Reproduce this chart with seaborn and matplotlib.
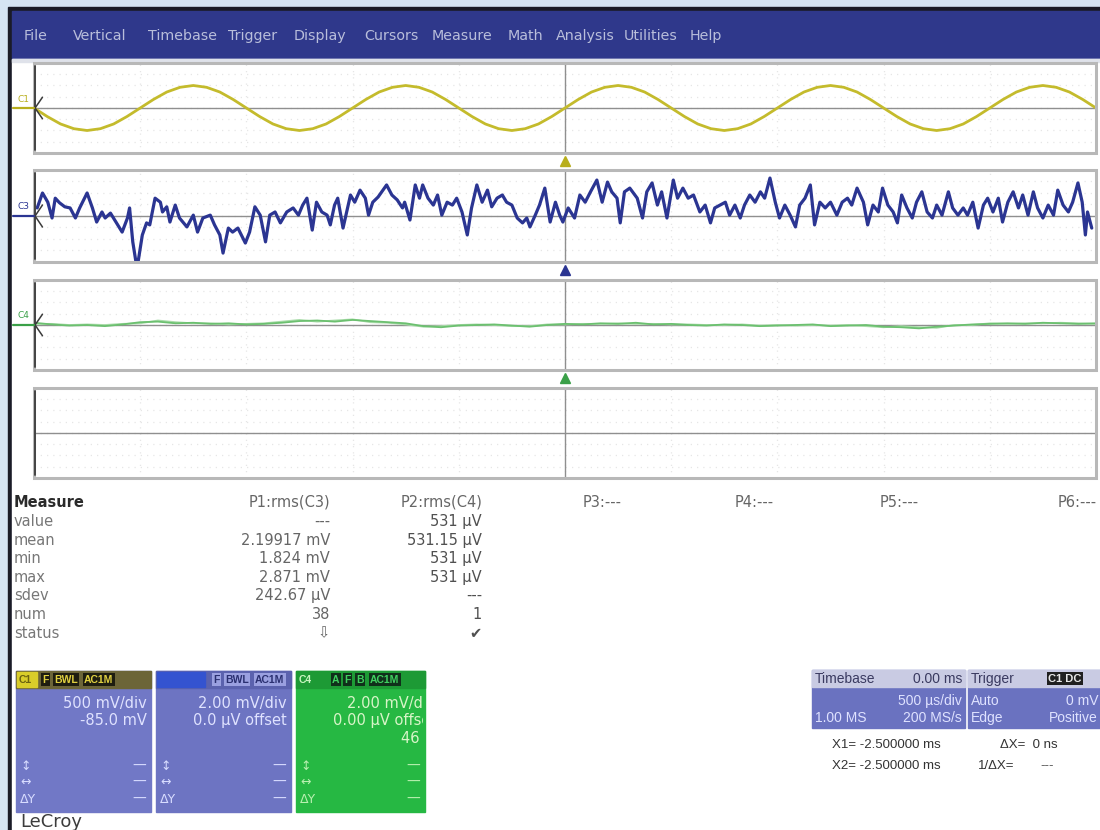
import numpy as np
import pandas as pd
import matplotlib
matplotlib.use("Agg")
import matplotlib.pyplot as plt
from matplotlib.patches import Rectangle
from matplotlib.lines import Line2D
from matplotlib.ticker import MultipleLocator
from matplotlib.transforms import blended_transform_factory
import seaborn as sns

# ---------------------------------------------------------------------------
# Acquisition settings
# ---------------------------------------------------------------------------
TIME_PER_DIV_MS = 0.5          # 500 us/div, 10 divisions
trigger_time_ms = 0.0
c1_volts_per_div = 0.5         # 500 mV/div
c3_mv_per_div = 2.0            # 2.00 mV/div
c4_mv_per_div = 2.0            # 2.00 mV/div

# C1: 1 kHz reference sine (V), sampled every 62.5 us
c1_t_ms = np.linspace(-2.5, 2.5, 81)
c1_v = [
    0.0, -0.38, -0.71, -0.92, -1.0, -0.92, -0.71, -0.38,
    0.0, 0.38, 0.71, 0.92, 1.0, 0.92, 0.71, 0.38,
    0.0, -0.38, -0.71, -0.92, -1.0, -0.92, -0.71, -0.38,
    0.0, 0.38, 0.71, 0.92, 1.0, 0.92, 0.71, 0.38,
    0.0, -0.38, -0.71, -0.92, -1.0, -0.92, -0.71, -0.38,
    0.0, 0.38, 0.71, 0.92, 1.0, 0.92, 0.71, 0.38,
    0.0, -0.38, -0.71, -0.92, -1.0, -0.92, -0.71, -0.38,
    0.0, 0.38, 0.71, 0.92, 1.0, 0.92, 0.71, 0.38,
    0.0, -0.38, -0.71, -0.92, -1.0, -0.92, -0.71, -0.38,
    0.0, 0.38, 0.71, 0.92, 1.0, 0.92, 0.71, 0.38,
    0.0,
]

# C3: noisy channel (time in us, amplitude in mV)
c3_t_us = [
    -2485, -2460, -2435, -2415, -2400, -2380, -2355, -2330, -2305, -2285,
    -2250, -2225, -2205, -2180, -2165, -2140, -2120, -2085, -2060, -2050,
    -2035, -2020, -2010, -1990, -1970, -1955, -1930, -1905, -1895, -1875,
    -1860, -1835, -1815, -1780, -1750, -1730, -1705, -1670, -1650, -1625,
    -1610, -1585, -1565, -1540, -1505, -1485, -1460, -1435, -1410, -1390,
    -1365, -1340, -1310, -1280, -1255,
    -1235, -1215, -1190, -1170, -1145, -1120, -1105, -1085, -1070, -1045,
    -1010, -990, -965, -940, -925, -905, -880, -840, -815, -790,
    -765, -755, -730, -705, -685, -670, -645, -620, -600, -580,
    -555, -530, -510, -485, -460, -440, -415, -390, -365, -345,
    -320, -295, -275, -250, -225, -200, -180, -165, -140, -120,
    -95, -70, -45,
    -25, -10, 15, 45, 70, 95, 120, 150, 175, 200,
    220, 245, 260, 280, 305, 340, 365, 385, 410, 435,
    455, 480, 510, 530, 555, 580, 605, 635, 660, 685,
    705, 730, 755, 775, 800, 825, 845, 870, 895, 920,
    940, 965, 990, 1010, 1035, 1060, 1085, 1105, 1130, 1155,
    1175, 1200, 1225, 1250, 1280, 1305, 1330, 1350, 1375, 1405,
    1425, 1450, 1475, 1495, 1520, 1545, 1565, 1585, 1610, 1635,
    1655, 1680, 1705, 1730, 1750, 1775, 1805, 1825, 1850, 1875,
    1895, 1920, 1945, 1970, 1990, 2015, 2040, 2060, 2085, 2110,
    2135, 2155, 2180, 2205, 2225, 2250, 2275, 2300, 2320, 2345,
    2370, 2390, 2415, 2435, 2450, 2460, 2480,
]
c3_mv = [
    1.4, 4.0, 2.4, -0.35, 3.1, 2.3, 1.6, 1.4, -0.35, 1.4,
    4.0, 1.4, -1.05, 0.7, -0.35, 0.5, -0.7, -2.8, -0.35, 1.4,
    -4.5, -8.0, -8.0, -3.3, -1.2, -1.55, 3.1, 2.4, 0.7, 1.6,
    -1.05, 1.9, -0.35, -1.9, 0.15, -2.8, -0.35, 0.15, -1.55, -3.3,
    -6.45, -2.1, -2.8, -2.1, -4.7, -2.8, 1.6, 0.15, -4.5, 0.15,
    0.7, -1.2, 0.7, 1.4, 0.15,
    1.9, 3.1, -2.45, 2.4, 0.7, 0.15, -1.55, 1.9, 3.1, -2.1,
    3.65, 2.4, 4.5, 3.1, 0.15, 2.4, 3.3, 5.4, 3.65, 2.8,
    1.4, 2.4, -0.7, 5.4, 3.1, 5.4, 3.1, 1.9, 3.65, 0.15,
    2.4, 1.9, 3.1, 0.7, -3.3, 1.4, 5.4, 2.4, 4.5, 1.6,
    3.1, 3.65, 2.4, 1.9, -0.35, -1.2, -0.35, -1.9, 0.15, 1.9,
    4.85, -1.05, 2.4,
    0.15, -1.05, 1.4, -0.35, 3.65, 2.4, 4.2, 6.25, 2.4, 5.9,
    4.2, 3.1, -1.2, 4.2, 4.85, 3.1, -0.35, 4.2, 5.75, 1.9,
    4.2, -0.35, 6.25, 3.1, 4.85, 3.1, 3.65, 0.7, 1.9, -1.2,
    1.4, 1.9, 2.4, 0.15, 1.9, -0.35, 1.9, 3.65, 2.4, 4.2,
    3.1, 6.6, 2.4, -0.35, 1.9, 0.15, -1.9, 1.9, 3.1, 5.4,
    -1.55, 2.4, 1.4, 2.4, 0.15, 2.4, 3.1, 1.9, 4.85, 2.4,
    -1.55, 1.9, 0.7, 4.85, 1.9, 0.7, -1.2, 3.65, 1.4, -0.35,
    2.4, 4.2, 0.7, -0.35, 1.9, 0.15, 4.2, 1.4, 0.15, 1.4,
    0.15, 2.4, -2.1, 1.9, 3.1, 0.7, 3.1, -1.05, 2.4, 4.2,
    1.4, 3.65, 0.15, 4.2, 1.4, -0.35, 1.9, 0.15, 4.5, 1.9,
    0.7, 2.4, 5.75, 2.4, -3.3, 0.7, -2.1,
]

# C4: quiet channel (mV), current sweep and the persisted previous sweep
c4_t_ms = np.linspace(-2.5, 2.5, 61)
c4_mv = [
    0.4, 0.1, -0.1, 0.0, -0.2, 0.1, 0.5, 0.6, 0.3, 0.4,
    0.2, 0.3, 0.1, 0.2, 0.4, 0.7, 0.8, 0.6, 0.9, 0.7,
    0.5, 0.3, -0.2, -0.4, -0.1, 0.0, 0.1, -0.1, -0.3, 0.0,
    0.2, 0.1, 0.3, 0.2, 0.4, 0.1, 0.2, 0.0, -0.1, 0.1,
    0.0, -0.2, -0.1, 0.0, 0.1, -0.2, -0.1, 0.0, -0.3, -0.4,
    -0.6, -0.3, -0.1, 0.1, 0.2, 0.3, 0.2, 0.4, 0.3, 0.2,
    0.3,
]
c4_prev_mv = [
    0.2, 0.2, 0.0, 0.1, 0.0, 0.2, 0.3, 0.8, 0.5, 0.3,
    0.3, 0.1, 0.2, 0.3, 0.6, 0.9, 0.6, 0.8, 1.0, 0.5,
    0.4, 0.1, -0.3, -0.2, 0.0, 0.1, 0.0, -0.2, -0.2, 0.1,
    0.1, 0.2, 0.2, 0.3, 0.2, 0.2, 0.1, 0.1, 0.0, 0.0,
    0.1, -0.1, 0.0, -0.1, 0.0, -0.1, 0.0, -0.2, -0.4, -0.2,
    -0.4, -0.5, 0.0, 0.0, 0.3, 0.2, 0.3, 0.3, 0.4, 0.3,
    0.2,
]

# Menu and readout texts
menu_items = ["File", "Vertical", "Timebase", "Trigger", "Display", "Cursors",
              "Measure", "Math", "Analysis", "Utilities", "Help"]
measure_rows = ["value", "mean", "min", "max", "sdev", "num", "status"]
p1_header = "P1:rms(C3)"
p1_values = ["---", "2.19917 mV", "1.824 mV", "2.871 mV", "242.67 µV", "38", "⇩"]
p2_header = "P2:rms(C4)"
p2_values = ["531 µV", "531.15 µV", "531 µV", "531 µV", "---", "1", "✔"]
unused_params = ["P3:---", "P4:---", "P5:---", "P6:---"]

# ---------------------------------------------------------------------------
sns.set_style("white")
plt.rcParams["font.family"] = ["DejaVu Sans"]
NARROW = ["Liberation Sans", "DejaVu Sans"]

W, H = 1100, 830
YELLOW = "#c4bb2c"
BLUE = "#2b3592"
GREEN = "#6cc070"
TEXT = "#666666"

fig = plt.figure(figsize=(W / 100, H / 100), dpi=100)

# full-figure layer in pixel units for the instrument chrome
ui = fig.add_axes([0, 0, 1, 1], zorder=0)
ui.set_xlim(0, W)
ui.set_ylim(H, 0)
ui.axis("off")

ui.add_patch(Rectangle((0, 0), W, H, color="#d5e4f3", zorder=0))
ui.add_patch(Rectangle((8, 7), W, H, color="#1a1b27", zorder=0))
ui.add_patch(Rectangle((12, 11), W, 48, color="#2f388b", zorder=1))
ui.add_patch(Rectangle((12, 59), W, H, color="white", zorder=1))
ui.add_patch(Rectangle((12, 59), W, 3, color="#dfe2ea", zorder=1))

menu_x = [24, 73, 148, 228, 294, 364, 432, 508, 556, 624, 690]
for label, mx in zip(menu_items, menu_x):
    ui.text(mx, 36, label, fontsize=10.3, color="#b9bedb", va="center",
            ha="left", zorder=3)


def px_axes(x0, y0, x1, y1, z=2):
    return fig.add_axes([x0 / W, 1 - y1 / H, (x1 - x0) / W, (y1 - y0) / H],
                        zorder=z)


def scope_panel(y0, y1, per_div, name, color, trig=True):
    ax = px_axes(34, y0, 1096, y1)
    ax.set_xlim(-5 * TIME_PER_DIV_MS, 5 * TIME_PER_DIV_MS)
    ax.set_ylim(-4 * per_div, 4 * per_div)
    ax.set_facecolor("white")
    ax.spines["top"].set_visible(False)
    ax.spines["right"].set_visible(False)
    ax.spines["left"].set_position(("data", 0))
    ax.spines["bottom"].set_position(("data", 0))
    for s in ("left", "bottom"):
        ax.spines[s].set_color("#8f8f8f")
        ax.spines[s].set_linewidth(1.0)
    ax.xaxis.set_major_locator(MultipleLocator(TIME_PER_DIV_MS))
    ax.xaxis.set_minor_locator(MultipleLocator(TIME_PER_DIV_MS / 5))
    ax.yaxis.set_major_locator(MultipleLocator(per_div))
    ax.tick_params(which="both", direction="inout", labelbottom=False,
                   labelleft=False, color="#8a8a8a")
    ax.tick_params(which="major", length=7, width=1.0)
    ax.tick_params(which="minor", length=4, width=0.8)
    ax.grid(True, which="major", color="#e6e6e6", ls=(0, (1, 4)), lw=0.9)
    # panel frame
    ax.add_patch(Rectangle((0, 0), 1, 1, transform=ax.transAxes, fill=False,
                           ec="#b8b8b8", lw=2.2, clip_on=False, zorder=6))
    # ground bracket on the left edge
    ax.add_line(Line2D([0.001, 0.001], [0.03, 0.97], transform=ax.transAxes,
                       color="#3a3a3a", lw=1.3, clip_on=False, zorder=7))
    if name:
        ax.add_line(Line2D([0.008, 0.001, 0.008], [0.62, 0.5, 0.38],
                           transform=ax.transAxes, color="#3a3a3a", lw=1.1,
                           clip_on=False, zorder=7))
        ax.add_line(Line2D([-0.02, 0.0], [0.5, 0.5], transform=ax.transAxes,
                           color=color, lw=1.6, clip_on=False, zorder=7))
        ax.text(-0.004, 0.6, name, transform=ax.transAxes, ha="right",
                va="center", fontsize=6.5, color=color, zorder=7)
    if trig:
        tr = blended_transform_factory(ax.transData, ax.transAxes)
        ax.plot([trigger_time_ms], [-0.085], transform=tr, marker="^",
                ms=7, color=color, clip_on=False, zorder=7)
    return ax


# C1 panel
ax1 = scope_panel(63, 153, c1_volts_per_div, "C1", "#b8ae1c")
df1 = pd.DataFrame({"t": c1_t_ms, "v": c1_v})
sns.lineplot(data=df1, x="t", y="v", ax=ax1, color=YELLOW, lw=2.0,
             sort=False, estimator=None, zorder=4)

# C3 panel
ax3 = scope_panel(170, 262, c3_mv_per_div, "C3", BLUE)
df3 = pd.DataFrame({"t": np.array(c3_t_us) / 1000.0, "v": c3_mv})
sns.lineplot(data=df3, x="t", y="v", ax=ax3, color=BLUE, lw=2.3,
             sort=False, estimator=None, zorder=4)

# C4 panel
ax4 = scope_panel(280, 370, c4_mv_per_div, "C4", "#3aa048")
df4 = pd.DataFrame({"t": np.concatenate([c4_t_ms, c4_t_ms]),
                    "v": c4_prev_mv + c4_mv,
                    "sweep": ["prev"] * len(c4_t_ms) + ["cur"] * len(c4_t_ms)})
sns.lineplot(data=df4, x="t", y="v", hue="sweep", ax=ax4,
             palette={"prev": "#a9dca9", "cur": GREEN}, lw=1.3,
             sort=False, estimator=None, legend=False, zorder=4)

# empty fourth grid
ax5 = scope_panel(388, 478, 1.0, None, "#888888", trig=False)

for a in (ax1, ax3, ax4, ax5):
    a.set_xlabel("")
    a.set_ylabel("")

# ---------------------------------------------------------------------------
# Measurement table
# ---------------------------------------------------------------------------
fs_tab = 10.5
ui.text(14, 502, "Measure", fontsize=fs_tab, fontweight="bold", color="#2a2a2a",
        va="center", zorder=3)
ui.text(330, 502, p1_header, fontsize=fs_tab, color=TEXT, ha="right",
        va="center", zorder=3)
ui.text(482, 502, p2_header, fontsize=fs_tab, color=TEXT, ha="right",
        va="center", zorder=3)
for label, px in zip(unused_params, [583, 735, 880, 1058]):
    ui.text(px, 502, label, fontsize=fs_tab, color=TEXT, ha="left",
            va="center", zorder=3)
row_y = [521, 540, 558, 577, 595, 614, 633]
for label, y, v1, v2 in zip(measure_rows, row_y, p1_values, p2_values):
    ui.text(14, y, label, fontsize=fs_tab, color="#777777", va="center", zorder=3)
    ui.text(330, y, v1, fontsize=fs_tab, color=TEXT, ha="right", va="center",
            zorder=3)
    ui.text(482, y, v2, fontsize=fs_tab, color="#505050", ha="right",
            va="center", zorder=3)


# ---------------------------------------------------------------------------
# Channel descriptor boxes
# ---------------------------------------------------------------------------
def badge(x, y, s, fg, bg, fs=7.5):
    ui.text(x, y, s, fontsize=fs, color=fg, va="center", ha="left",
            fontweight="bold", zorder=5, family=NARROW,
            bbox=dict(boxstyle="square,pad=0.12", fc=bg, ec="none"))


def channel_box(x0, x1, body, header, lines, txt_color, foot_color, text_right=None):
    y0, y1 = 671, 812
    ui.add_patch(Rectangle((x0, y0), x1 - x0, y1 - y0, color=body, zorder=3))
    ui.add_patch(Rectangle((x0, y0), x1 - x0, 17, color=header, zorder=4))
    clip = Rectangle((x0, y0), x1 - x0 - 2, y1 - y0, transform=ui.transData)
    right = text_right if text_right is not None else x1 - 4
    for s, y in zip(lines, [703, 720, 738]):
        t = ui.text(right, y, s, fontsize=10.5, color=txt_color, ha="right",
                    va="center", zorder=5, clip_on=True)
        t.set_clip_path(clip)
    for sym, y in zip(["↕", "↔", "ΔY"], [766, 782, 799]):
        ui.text(x0 + 4, y, sym, fontsize=9, color=foot_color, va="center",
                zorder=5)
        ui.text(x1 - 5, y, "—", fontsize=10, color=foot_color, ha="right",
                va="center", zorder=5)


channel_box(16, 151, "#7178c6", "#6c6538", ["500 mV/div", "-85.0 mV", ""],
            "#dfe2ff", "#d8dcff")
ui.add_patch(Rectangle((17, 672), 20, 15, color="#d9cd2a", zorder=4))
ui.text(19, 679.5, "C1", fontsize=7.5, color="#6b6210", va="center",
        fontweight="bold", zorder=5, family=NARROW)
badge(42, 679.5, "F", "#e0d040", "#1e1d10")
badge(54, 679.5, "BWL", "#e0d040", "#1e1d10")
badge(84, 679.5, "AC1M", "#e0d040", "#1e1d10")

channel_box(156, 291, "#6d74c2", "#5b62ae", ["2.00 mV/div", "0.0 µV offset", ""],
            "#dfe2ff", "#d8dcff")
ui.add_patch(Rectangle((157, 672), 48, 15, color="#3453d0", zorder=4))
badge(213, 679.5, "F", "#2a2f70", "#9aa0e0")
badge(225, 679.5, "BWL", "#2a2f70", "#9aa0e0")
badge(255, 679.5, "AC1M", "#2a2f70", "#9aa0e0")

channel_box(296, 425, "#26b843", "#1d9a35", ["2.00 mV/div", "0.00 µV offset", "46 #"],
            "#d8f5c8", "#b8f0b0", text_right=436)
ui.text(299, 679.5, "C4", fontsize=7.5, color="#c8f5c0", va="center",
        fontweight="bold", zorder=5, family=NARROW)
badge(332, 679.5, "A", "#40d060", "#10301a")
badge(344, 679.5, "F", "#40d060", "#10301a")
badge(356, 679.5, "B", "#40d060", "#10301a")
badge(370, 679.5, "AC1M", "#40d060", "#10301a")

# timebase / trigger descriptors
fs_tb = 10
ui.add_patch(Rectangle((812, 670), 153, 58, color="#6a72c0", zorder=3))
ui.add_patch(Rectangle((812, 670), 153, 17, color="#c9cbe3", zorder=4))
ui.text(815, 678.5, "Timebase", fontsize=fs_tb, color="#3a3a60", va="center",
        zorder=5, family=NARROW)
ui.text(962, 678.5, "0.00 ms", fontsize=fs_tb, color="#3a3a60", va="center",
        ha="right", zorder=5, family=NARROW)
ui.text(962, 701, "500 µs/div", fontsize=fs_tb, color="#dfe2ff", va="center",
        ha="right", zorder=5, family=NARROW)
ui.text(815, 718, "1.00 MS", fontsize=fs_tb, color="#dfe2ff", va="center",
        zorder=5, family=NARROW)
ui.text(962, 718, "200 MS/s", fontsize=fs_tb, color="#dfe2ff", va="center",
        ha="right", zorder=5, family=NARROW)

ui.add_patch(Rectangle((968, 670), 140, 58, color="#6a72c0", zorder=3))
ui.add_patch(Rectangle((968, 670), 140, 17, color="#c9cbe3", zorder=4))
ui.text(971, 678.5, "Trigger", fontsize=fs_tb, color="#3a3a60", va="center",
        zorder=5, family=NARROW)
badge(1048, 678.5, "C1 DC", "#e8e8e8", "#202020", fs=8)
ui.text(971, 701, "Auto", fontsize=fs_tb, color="#dfe2ff", va="center",
        zorder=5, family=NARROW)
ui.text(1098, 701, "0 mV", fontsize=fs_tb, color="#dfe2ff", va="center",
        ha="right", zorder=5, family=NARROW)
ui.text(971, 718, "Edge", fontsize=fs_tb, color="#dfe2ff", va="center",
        zorder=5, family=NARROW)
ui.text(1098, 718, "Positive", fontsize=fs_tb, color="#dfe2ff", va="center",
        ha="right", zorder=5, family=NARROW)

# cursor readouts
ui.text(832, 745, "X1= -2.500000 ms", fontsize=9.5, color="#333333",
        va="center", zorder=3, family=NARROW)
ui.text(1000, 745, "ΔX=  0 ns", fontsize=9.5, color="#333333", va="center",
        zorder=3, family=NARROW)
ui.text(832, 766, "X2= -2.500000 ms", fontsize=9.5, color="#333333",
        va="center", zorder=3, family=NARROW)
ui.text(978, 766, "1/ΔX=", fontsize=9.5, color="#333333", va="center",
        zorder=3, family=NARROW)
ui.text(1040, 766, "---", fontsize=9.5, color="#555555", va="center",
        zorder=3, family=NARROW)

ui.text(20, 822, "LeCroy", fontsize=13, color="#3c3c3c", va="center", zorder=3)

fig.savefig("out.png", dpi=100)
